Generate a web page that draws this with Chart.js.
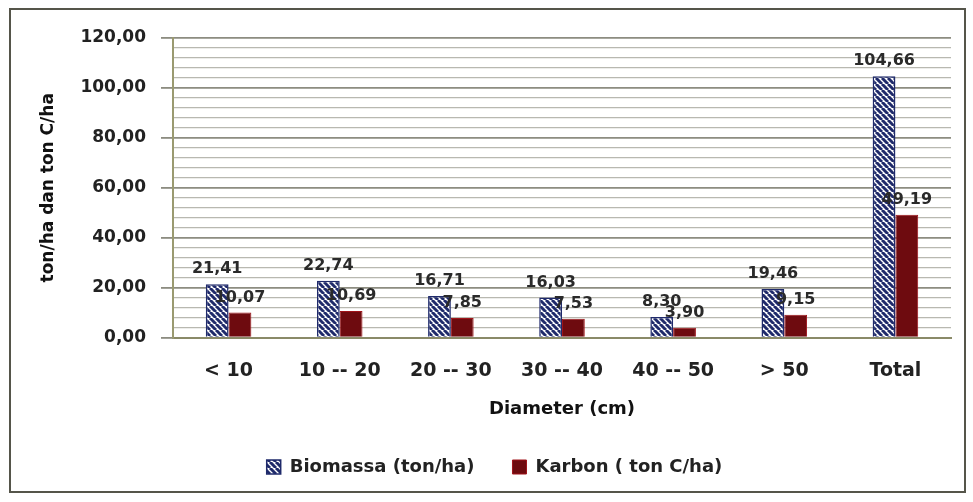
<!DOCTYPE html>
<html>
<head>
<meta charset="utf-8">
<script src="https://cdn.jsdelivr.net/npm/chart.js@4.4.1/dist/chart.umd.min.js"></script>
<style>
    body { margin: 0; background: #fff; }
    #wrap { width: 973px; height: 502px; }
</style>
</head>
<body>
<div id="wrap"><canvas id="chart" width="973" height="502"></canvas></div>
<script>
// Data
const categories = ['< 10', '10 -- 20', '20 -- 30', '30 -- 40', '40 -- 50', '> 50', 'Total'];
const biomassa = [21.41, 22.74, 16.71, 16.03, 8.30, 19.46, 104.66];
const karbon = [10.07, 10.69, 7.85, 7.53, 3.90, 9.15, 49.19];
const seriesNames = ['Biomassa (ton/ha)', 'Karbon ( ton C/ha)'];
const yTitle = 'ton/ha dan ton C/ha';
const xTitle = 'Diameter (cm)';

const FONT = '"DejaVu Sans", sans-serif';

// striped fill for Biomassa
function makeStripes() {
    const c = document.createElement('canvas');
    c.width = 6; c.height = 6;
    const g = c.getContext('2d');
    g.fillStyle = '#ffffff';
    g.fillRect(0, 0, 6, 6);
    g.strokeStyle = '#1f2a6b';
    g.lineWidth = 3;
    for (let x = -6; x <= 6; x += 6) {
        g.beginPath();
        g.moveTo(x, 0);
        g.lineTo(x + 6, 6);
        g.stroke();
    }
    return g.createPattern(c, 'repeat');
}

const fmt = v => v.toFixed(2).replace('.', ',');

// value labels above bars
const valueLabels = {
    id: 'valueLabels',
    afterDatasetsDraw(chart) {
        const ctx = chart.ctx;
        ctx.save();
        ctx.font = 'bold 16px ' + FONT;
        ctx.fillStyle = '#2a2a2a';
        ctx.textAlign = 'center';
        ctx.textBaseline = 'bottom';
        chart.data.datasets.forEach((ds, i) => {
            chart.getDatasetMeta(i).data.forEach((bar, j) => {
                ctx.fillText(fmt(ds.data[j]), bar.x, bar.y - 7);
            });
        });
        ctx.restore();
    }
};

// outer frame
const frame = {
    id: 'frame',
    beforeDraw(chart) {
        const ctx = chart.ctx;
        ctx.save();
        ctx.fillStyle = '#ffffff';
        ctx.fillRect(0, 0, chart.width, chart.height);
        ctx.strokeStyle = '#55554a';
        ctx.lineWidth = 2;
        ctx.strokeRect(10, 9, 955, 483);
        ctx.restore();
    }
};

new Chart(document.getElementById('chart'), {
    type: 'bar',
    data: {
        labels: categories,
        datasets: [{
            label: seriesNames[0],
            data: biomassa,
            backgroundColor: makeStripes(),
            borderColor: '#1f2a6b',
            borderWidth: 1.5
        }, {
            label: seriesNames[1],
            data: karbon,
            backgroundColor: '#6e0b0f',
            borderColor: '#a0141a',
            borderWidth: 1
        }]
    },
    options: {
        responsive: false,
        animation: false,
        layout: { padding: { left: 38, right: 22, top: 38, bottom: 16 } },
        datasets: { bar: { barPercentage: 1, categoryPercentage: 0.41 } },
        plugins: {
            legend: {
                position: 'bottom',
                labels: {
                    font: { family: FONT, size: 18, weight: 'bold' },
                    color: '#222',
                    boxWidth: 14,
                    boxHeight: 14,
                    padding: 38
                }
            },
            tooltip: { enabled: false }
        },
        scales: {
            x: {
                grid: { display: false, drawTicks: false },
                border: { color: '#8a8a68', width: 2 },
                ticks: {
                    font: { family: FONT, size: 19, weight: 'bold' },
                    color: '#222',
                    padding: 22
                },
                title: {
                    display: true,
                    text: xTitle,
                    font: { family: FONT, size: 18, weight: 'bold' },
                    color: '#111',
                    padding: { top: -6, bottom: 0 }
                }
            },
            y: {
                min: 0,
                max: 120,
                ticks: {
                    stepSize: 4,
                    autoSkip: false,
                    font: { family: FONT, size: 17, weight: 'bold' },
                    color: '#222',
                    padding: 15,
                    callback: v => (v % 20 === 0 ? fmt(v) : '')
                },
                grid: {
                    color: c => (c.tick && c.tick.value % 20 === 0 ? '#8c8c80' : '#b8b8b0'),
                    lineWidth: c => (c.tick && c.tick.value % 20 === 0 ? 1.8 : 1.2),
                    tickLength: 12,
                    tickColor: c => (c.tick && c.tick.value % 20 === 0 ? '#8c8c80' : 'rgba(0,0,0,0)')
                },
                border: { color: '#9a9a70', width: 2 },
                title: {
                    display: true,
                    text: yTitle,
                    font: { family: FONT, size: 17, weight: 'bold' },
                    color: '#111',
                    padding: { top: 0, bottom: 7 }
                }
            }
        }
    },
    plugins: [frame, valueLabels]
});
</script>
</body>
</html>
